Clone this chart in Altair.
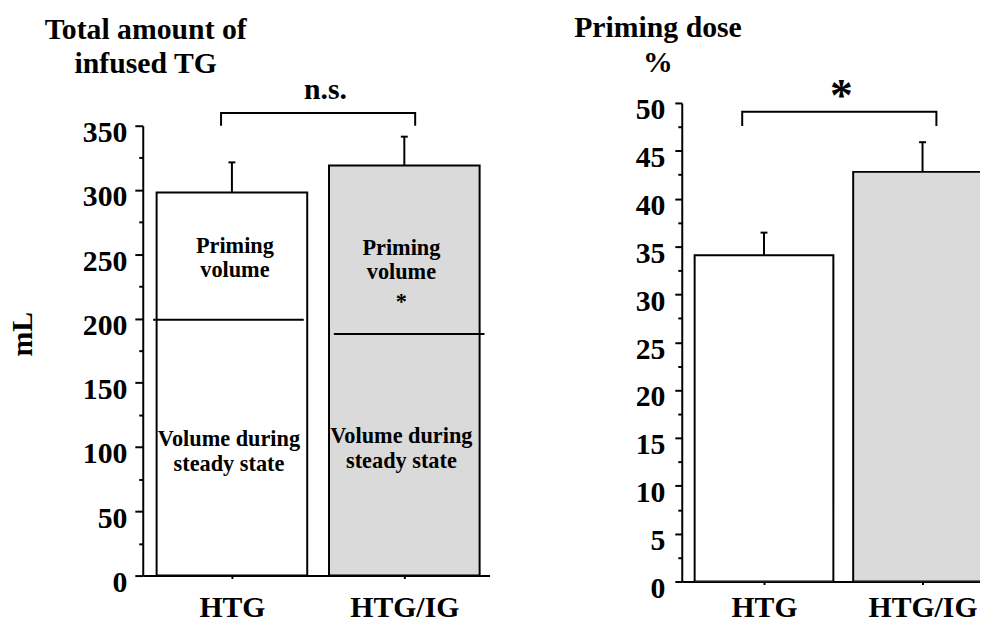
import altair as alt
import pandas as pd

# ---------------- data ----------------
categories = ["HTG", "HTG/IG"]
total_infused_ml = [298, 319]          # total amount of infused TG (bar tops)
total_infused_sem = [23.5, 22.5]       # error bars
steady_state_ml = [199, 188]           # volume during steady state (boundary line)
priming_dose_pct = [34.1, 42.8]        # priming dose (%)
priming_dose_sem = [2.35, 3.1]

left_ticks = [0, 50, 100, 150, 200, 250, 300, 350]
left_minor_ticks = [25, 75, 125, 175, 225, 275, 325]
right_ticks = [0, 5, 10, 15, 20, 25, 30, 35, 40, 45, 50]
right_minor_ticks = [2.5, 7.5, 12.5, 17.5, 22.5, 27.5, 32.5, 37.5, 42.5, 47.5]

bar_fills = ["#ffffff", "#dadada"]

# ---------------- styling / layout constants ----------------
FONT = "Liberation Serif"
BLACK = "#000000"
FS = 30
W_L, H_L, TOP_L = 350, 477, 23     # left plot: y=350 sits 23px below the shared top
W_R, H_R = 301, 483
XDOM_L = [0.4828, 0.4828 + W_L / 174]
XDOM_R = [0.48125, 0.48125 + W_R / 160]
HALF_L = 76 / 174
HALF_R = 70 / 160
CAP_L = 3.5 / 174
CAP_R = 3.5 / 160
LINE_SHIFT = [-0.02, 0.028]

pos = [1, 2]
df = pd.DataFrame({
    "cat": categories,
    "pos": pos,
    "total": total_infused_ml,
    "sem": total_infused_sem,
    "steady": steady_state_ml,
    "pct": priming_dose_pct,
    "psem": priming_dose_sem,
    "fill": bar_fills,
})
df["lo_l"] = df["pos"] - HALF_L
df["hi_l"] = df["pos"] + HALF_L
df["lo_r"] = df["pos"] - HALF_R
df["hi_r"] = df["pos"] + HALF_R
df["top_l"] = df["total"] + df["sem"]
df["top_r"] = df["pct"] + df["psem"]
df["cap_lo_l"] = df["pos"] - CAP_L
df["cap_hi_l"] = df["pos"] + CAP_L
df["cap_lo_r"] = df["pos"] - CAP_R
df["cap_hi_r"] = df["pos"] + CAP_R
df["pl_lo"] = df["lo_l"] + pd.Series(LINE_SHIFT)
df["pl_hi"] = df["hi_l"] + pd.Series(LINE_SHIFT)

label_expr = " : ".join(
    f"datum.value == {p} ? '{c}'" for p, c in zip(pos, categories)
) + " : ''"

text_style = dict(font=FONT, fontWeight="bold", color=BLACK)


def x_axis(pad):
    return alt.Axis(orient="bottom", values=pos, labelExpr=label_expr, tickSize=3,
                    labelPadding=pad, title=None, grid=False, labelFont=FONT,
                    labelFontSize=FS, labelFontWeight="bold", labelColor=BLACK,
                    domainColor=BLACK, domainWidth=2, tickColor=BLACK, tickWidth=2,
                    labelAngle=0)


def y_axis(values, tick, pad, offset, **kw):
    return alt.Axis(orient="left", values=values, tickSize=tick, labelPadding=pad,
                    labelOffset=offset, grid=False, labelFont=FONT, labelFontSize=FS,
                    labelFontWeight="bold", labelColor=BLACK, domainColor=BLACK,
                    domainWidth=2, tickColor=BLACK, tickWidth=2, format="d", **kw)


def minor_axis(values):
    return alt.Axis(orient="left", values=values, tickSize=4, labels=False, domain=False,
                    grid=False, title=None, tickColor=BLACK, tickWidth=2)


# ---------------- left panel ----------------
xs_l = alt.Scale(domain=XDOM_L, nice=False, zero=False)
ys_l = alt.Scale(domain=[0, 350], range=[H_L, TOP_L], nice=False, zero=True)
xa_l = x_axis(14)


def XL(field):
    return alt.X(field, scale=xs_l, axis=xa_l)


base_l = alt.Chart(df)

bars_l = base_l.mark_bar(stroke=BLACK, strokeWidth=2).encode(
    x=XL("lo_l:Q"),
    x2="hi_l:Q",
    y=alt.Y("total:Q", scale=ys_l,
            axis=y_axis(left_ticks, 8, 8, 7, title="mL", titleX=-112, titleY=233,
                        titleAngle=270, titleAlign="center", titleBaseline="alphabetic",
                        titleFont=FONT, titleFontSize=FS, titleFontWeight="bold",
                        titleColor=BLACK)),
    y2=alt.datum(0),
    fill=alt.Fill("fill:N", scale=None, legend=None),
)
minor_l = base_l.mark_point(opacity=0).encode(
    x=XL("pos:Q"),
    y=alt.Y("total:Q", axis=minor_axis(left_minor_ticks)),
)
err_l = base_l.mark_rule(color=BLACK, strokeWidth=2).encode(
    x=XL("pos:Q"), y=alt.Y("total:Q", axis=None), y2="top_l:Q")
cap_l = base_l.mark_rule(color=BLACK, strokeWidth=2).encode(
    x=XL("cap_lo_l:Q"), x2="cap_hi_l:Q", y=alt.Y("top_l:Q", axis=None))
steady_l = base_l.mark_rule(color=BLACK, strokeWidth=2).encode(
    x=XL("pl_lo:Q"), x2="pl_hi:Q", y=alt.Y("steady:Q", axis=None))

bracket_l = pd.DataFrame({
    "x": [pos[0] - 0.063, pos[0] - 0.063, pos[1] + 0.063, pos[1] + 0.063],
    "y": [350, 360, 360, 350],
    "o": [0, 1, 2, 3],
})
brk_l = alt.Chart(bracket_l).mark_line(color=BLACK, strokeWidth=2).encode(
    x=XL("x:Q"), y=alt.Y("y:Q", axis=None), order="o:Q")

ann_l = pd.DataFrame({
    "x": [1.0173, 1.983, 1.983, 0.9828, 1.983],
    "y": [251.3, 249.8, 207.7, 101, 103.3],
    "t": ["Priming\nvolume", "Priming\nvolume", "*",
          "Volume during\nsteady state", "Volume during\nsteady state"],
})
ann_l_txt = alt.Chart(ann_l).mark_text(
    fontSize=22.5, align="center", baseline="alphabetic", lineBreak="\n",
    lineHeight=25, **text_style
).encode(x=XL("x:Q"), y=alt.Y("y:Q", axis=None), text="t:N")

ns_l = alt.Chart(pd.DataFrame({"x": [1.543], "y": [370.8], "t": ["n.s."]})).mark_text(
    fontSize=FS, align="center", baseline="alphabetic", **text_style
).encode(x=XL("x:Q"), y=alt.Y("y:Q", axis=None), text="t:N")

title_l = alt.Chart(pd.DataFrame({"t": ["Total amount of\ninfused TG"]})).mark_text(
    fontSize=FS, align="center", baseline="alphabetic", lineBreak="\n",
    lineHeight=35, **text_style
).encode(x=alt.value(3), y=alt.value(-65), text="t:N")

left = alt.layer(
    bars_l, minor_l, err_l, cap_l, steady_l, brk_l, ann_l_txt, ns_l, title_l
).resolve_axis(y="independent").properties(width=W_L, height=H_L)

# ---------------- right panel ----------------
xs_r = alt.Scale(domain=XDOM_R, nice=False, zero=False)
ys_r = alt.Scale(domain=[0, 50], nice=False, zero=True)
xa_r = x_axis(8)


def XR(field):
    return alt.X(field, scale=xs_r, axis=xa_r)


base_r = alt.Chart(df)

bars_r = base_r.mark_bar(stroke=BLACK, strokeWidth=2, clip=True).encode(
    x=XR("lo_r:Q"),
    x2="hi_r:Q",
    y=alt.Y("pct:Q", scale=ys_r, axis=y_axis(right_ticks, 7, 10, 7, title=None)),
    y2=alt.datum(0),
    fill=alt.Fill("fill:N", scale=None, legend=None),
)
minor_r = base_r.mark_point(opacity=0).encode(
    x=XR("pos:Q"),
    y=alt.Y("pct:Q", axis=minor_axis(right_minor_ticks)),
)
err_r = base_r.mark_rule(color=BLACK, strokeWidth=2).encode(
    x=XR("pos:Q"), y=alt.Y("pct:Q", axis=None), y2="top_r:Q")
cap_r = base_r.mark_rule(color=BLACK, strokeWidth=2).encode(
    x=XR("cap_lo_r:Q"), x2="cap_hi_r:Q", y=alt.Y("top_r:Q", axis=None))

bracket_r = pd.DataFrame({
    "x": [pos[0] - 0.1375, pos[0] - 0.1375, pos[1] + 0.0875, pos[1] + 0.0875],
    "y": [47.6, 49.07, 49.07, 47.6],
    "o": [0, 1, 2, 3],
})
brk_r = alt.Chart(bracket_r).mark_line(color=BLACK, strokeWidth=2).encode(
    x=XR("x:Q"), y=alt.Y("y:Q", axis=None), order="o:Q")

star_r = alt.Chart(pd.DataFrame({"x": [1.4875], "y": [49.2], "t": ["*"]})).mark_text(
    fontSize=46, align="center", baseline="alphabetic", **text_style
).encode(x=XR("x:Q"), y=alt.Y("y:Q", axis=None), text="t:N")

title_r = alt.Chart(pd.DataFrame({"t": ["Priming dose\n%"]})).mark_text(
    fontSize=FS, align="center", baseline="alphabetic", lineBreak="\n",
    lineHeight=36, **text_style
).encode(x=alt.value(-24), y=alt.value(-67), text="t:N")

right = alt.layer(
    bars_r, minor_r, err_r, cap_r, brk_r, star_r, title_r
).resolve_axis(y="independent").properties(width=W_R, height=H_R)

chart = alt.hconcat(left, right, spacing=85).properties(
    padding={"left": 0, "top": 2, "right": 0, "bottom": -5},
    background="white",
).configure_view(stroke=None)

chart.save("out.html", embed_options={"renderer": "svg", "actions": False})
